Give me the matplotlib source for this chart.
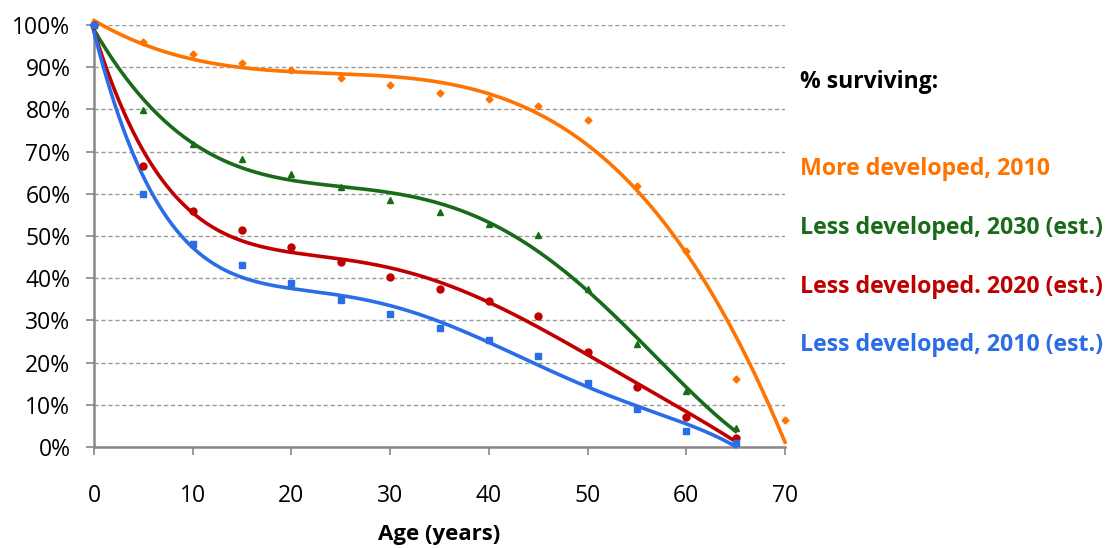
import matplotlib
matplotlib.use('Agg')
import matplotlib.pyplot as plt
import numpy as np
from matplotlib.ticker import PercentFormatter

# ages (years)
ages_more = [0, 5, 10, 15, 20, 25, 30, 35, 40, 45, 50, 55, 60, 65, 70]
ages_less = [0, 5, 10, 15, 20, 25, 30, 35, 40, 45, 50, 55, 60, 65]

# % surviving
more_2010 = [100, 95.9, 93.1, 91.1, 89.4, 87.5, 85.8, 84.0, 82.4, 80.7, 77.4, 61.9, 46.5, 16.2, 6.5]
less_2030 = [100, 79.9, 71.7, 68.2, 64.8, 61.5, 58.5, 55.6, 52.8, 50.2, 37.4, 24.4, 13.3, 4.4]
less_2020 = [100, 66.6, 55.9, 51.4, 47.5, 43.8, 40.4, 37.4, 34.6, 31.1, 22.6, 14.1, 7.0, 2.1]
less_2010 = [100, 60.0, 48.0, 43.1, 38.8, 34.8, 31.4, 28.3, 25.4, 21.6, 15.1, 8.9, 3.9, 1.0]

# (x, y, colour, marker, size, trendline order, label)
series = [
    (ages_more, more_2010, '#ff7300', 'D', 3.5, 4, 'More developed, 2010'),
    (ages_less, less_2030, '#196b19', '^', 5, 5, 'Less developed, 2030 (est.)'),
    (ages_less, less_2020, '#c00000', 'o', 5, 5, 'Less developed. 2020 (est.)'),
    (ages_less, less_2010, '#2b6de6', 's', 5, 5, 'Less developed, 2010 (est.)'),
]

plt.rcParams['font.family'] = ['Open Sans', 'DejaVu Sans']

fig = plt.figure(figsize=(11.11, 5.48), dpi=100)
ax = fig.add_axes([94 / 1111, 1 - 447 / 548, (785 - 94) / 1111, (447 - 25) / 548])

for x, y, color, marker, ms, order, label in series:
    # polynomial trendline like the spreadsheet one
    coef = np.polyfit(x, y, order)
    xs = np.linspace(0, max(x), 300)
    ax.plot(xs, np.polyval(coef, xs), color=color, lw=2.6, zorder=3, clip_on=False)
    ax.plot(x, y, linestyle='none', marker=marker, ms=ms, color=color, zorder=4, clip_on=False)

ax.set_xlim(0, 70)
ax.set_ylim(0, 100)
ax.set_xticks(range(0, 71, 10))
ax.set_yticks(range(0, 101, 10))
ax.yaxis.set_major_formatter(PercentFormatter(decimals=0))
ax.grid(axis='y', color='#999999', linestyle=(0, (3, 2)), lw=1)
ax.set_axisbelow(True)
for s in ['top', 'right']:
    ax.spines[s].set_visible(False)
for s in ['left', 'bottom']:
    ax.spines[s].set_color('#888888')
    ax.spines[s].set_linewidth(1.8)
ax.tick_params(axis='x', colors='#888888', length=6, width=1.2, labelcolor='black',
               labelsize=16.5, pad=21)
ax.tick_params(axis='y', colors='#888888', length=6, width=1.2, labelcolor='black',
               labelsize=16.5, pad=11)
ax.set_xlabel('Age (years)', fontsize=16, fontweight='bold', labelpad=11)

fig.text(800 / 1111, 1 - 82 / 548, '% surviving:', fontsize=16.5, fontweight='bold',
         color='black', va='center')
ys = [169, 228, 287, 345]
for (x, y, color, marker, ms, order, label), yy in zip(series, ys):
    fig.text(800 / 1111, 1 - yy / 548, label, fontsize=16.7, fontweight='bold',
             color=color, va='center')

fig.savefig('out.png', dpi=100)
